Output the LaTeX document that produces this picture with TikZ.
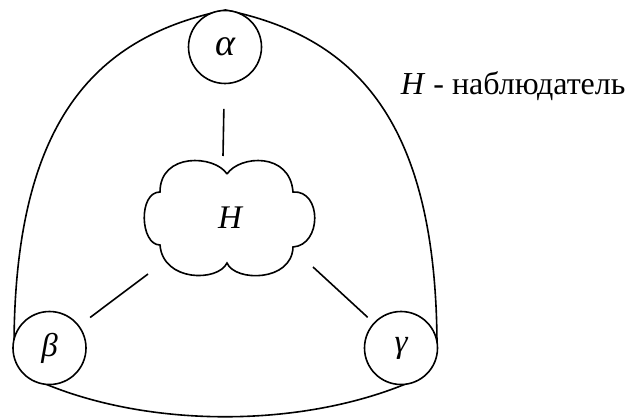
\documentclass[tikz,border=0pt]{standalone}
\usepackage{fontspec}
\setmainfont{Liberation Serif}
\begin{document}
\begin{tikzpicture}[x=1pt,y=-1pt,line width=1.6pt,
  ball/.style={circle,draw,fill=white,minimum size=73pt,inner sep=0pt,font=\fontsize{33}{38}\selectfont\itshape},
  lbl/.style={font=\fontsize{32}{38}\selectfont}]
\useasboundingbox (0,0) rectangle (628,419);
% outer contour
\draw (14,348) .. controls (14,115) and (100,36) .. (225.5,10)
      .. controls (351,36) and (437,115) .. (437,348)
      -- (408,383) .. controls (300,428) and (150,428) .. (43,383) -- cycle;
% cloud
\draw (227,174) .. controls (240,155) and (290,152) .. (293,192)
      .. controls (322,190) and (322,245) .. (293,247)
      .. controls (292,282) and (235,282) .. (227,263)
      .. controls (218,282) and (163,282) .. (160,245)
      .. controls (140,245) and (138,192) .. (160,192)
      .. controls (160,152) and (215,155) .. (227,174);
\node[font=\fontsize{33}{38}\selectfont\itshape] (H) at (230,218) {H};
% observers
\node[ball,font=\fontsize{38}{42}\selectfont\itshape] (alpha) at (225,47) {α};
\node[ball] (beta) at (49.5,348) {β};
\node[ball] (gamma) at (401,348) {γ};
% connectors
\coordinate (ca) at (223,156);
\coordinate (cb) at (148,274);
\coordinate (cg) at (313,267);
\draw[shorten >=24.5pt] (ca) -- (alpha);
\draw[shorten >=13.5pt] (cb) -- (beta);
\draw[shorten >=8pt] (cg) -- (gamma);
% legend
\node[lbl,anchor=base west,inner sep=0pt] (legend) at (400,95) {\textit{H} - наблюдатель};
\end{tikzpicture}
\end{document}
